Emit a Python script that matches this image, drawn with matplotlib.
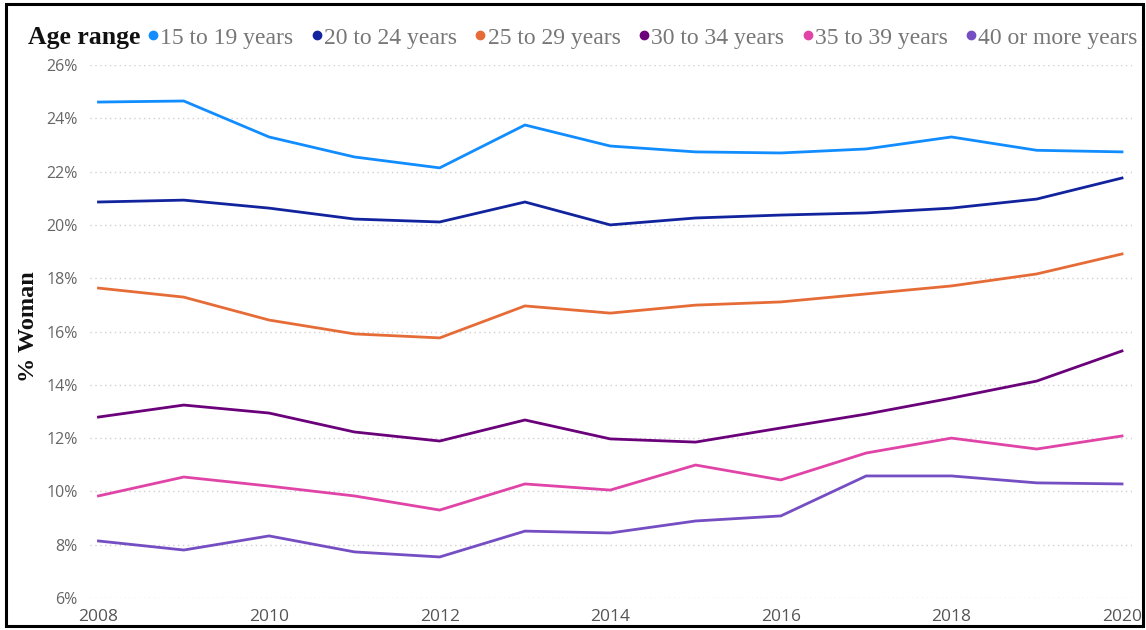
import matplotlib
matplotlib.use("Agg")
import matplotlib.pyplot as plt
from matplotlib.lines import Line2D
from matplotlib.patches import Rectangle
from matplotlib.ticker import FuncFormatter

years = [2008, 2009, 2010, 2011, 2012, 2013, 2014, 2015, 2016, 2017, 2018, 2019, 2020]
age_15_19 = [24.61, 24.65, 23.30, 22.55, 22.14, 23.75, 22.96, 22.74, 22.70, 22.85, 23.30, 22.80, 22.74]
age_20_24 = [20.86, 20.93, 20.63, 20.22, 20.11, 20.86, 20.00, 20.26, 20.37, 20.45, 20.63, 20.97, 21.76]
age_25_29 = [17.63, 17.29, 16.43, 15.91, 15.76, 16.96, 16.69, 16.99, 17.11, 17.41, 17.71, 18.16, 18.91]
age_30_34 = [12.79, 13.24, 12.94, 12.23, 11.89, 12.68, 11.97, 11.85, 12.38, 12.90, 13.50, 14.14, 15.27]
age_35_39 = [9.83, 10.54, 10.20, 9.83, 9.30, 10.28, 10.05, 10.99, 10.43, 11.44, 12.00, 11.59, 12.08]
age_40_plus = [8.14, 7.80, 8.33, 7.73, 7.54, 8.51, 8.44, 8.89, 9.08, 10.58, 10.58, 10.32, 10.28]

series_labels = ["15 to 19 years", "20 to 24 years", "25 to 29 years",
                 "30 to 34 years", "35 to 39 years", "40 or more years"]
series_values = [age_15_19, age_20_24, age_25_29, age_30_34, age_35_39, age_40_plus]
series_colors = ["#118DFF", "#12239E", "#E66C37", "#6B007B", "#E044A7", "#744EC2"]

y_ticks = [6, 8, 10, 12, 14, 16, 18, 20, 22, 24, 26]
x_ticks = [2008, 2010, 2012, 2014, 2016, 2018, 2020]

fig = plt.figure(figsize=(11.46, 6.30), dpi=100)
ax = fig.add_axes([0.0785, 0.0508, 0.9095, 0.846])

for vals, col, lab in zip(series_values, series_colors, series_labels):
    ax.plot(years, vals, color=col, lw=2.0, label=lab, solid_joinstyle="round")

ax.set_xlim(2007.9, 2020.12)
ax.set_ylim(6, 26)
ax.set_yticks(y_ticks)
ax.set_xticks(x_ticks)
ax.yaxis.set_major_formatter(FuncFormatter(lambda v, p: f"{int(v)}%"))
ax.grid(axis="y", color="#D0D0D0", linestyle=(0, (1, 2.5)), lw=1.0)
ax.set_axisbelow(True)
for s in ax.spines.values():
    s.set_visible(False)
ax.tick_params(length=0)
for lbl in ax.get_yticklabels():
    lbl.set_fontfamily("Open Sans")
    lbl.set_fontsize(11.5)
    lbl.set_color("#666666")
for lbl in ax.get_xticklabels():
    lbl.set_fontfamily("Open Sans")
    lbl.set_fontsize(12.5)
    lbl.set_color("#555555")
ax.tick_params(axis="y", pad=9)
ax.tick_params(axis="x", pad=8)

fig.text(0.025, 0.481, "% Woman", rotation=90, ha="center", va="center",
         fontfamily="Liberation Serif", fontweight="bold", fontsize=17.5, color="#111111")

fig.text(0.024, 0.94, "Age range", ha="left", va="center",
         fontfamily="Liberation Serif", fontweight="bold", fontsize=18.5, color="#111111")

handles = [Line2D([], [], marker="o", ls="none", color=c, markersize=6) for c in series_colors]
leg = fig.legend(handles, series_labels, loc="center left", bbox_to_anchor=(0.1273, 0.94),
                 ncol=6, frameon=False, handletextpad=0.0, columnspacing=0.70,
                 prop={"family": "Liberation Serif", "size": 17}, borderaxespad=0,
                 borderpad=0, handlelength=0.6)
for t in leg.get_texts():
    t.set_color("#777777")

fig.patches.append(Rectangle((0.005, 0.006), 0.992, 0.987, transform=fig.transFigure,
                             fill=False, edgecolor="black", lw=2.2))

fig.savefig("out.png", dpi=100, facecolor="white")
